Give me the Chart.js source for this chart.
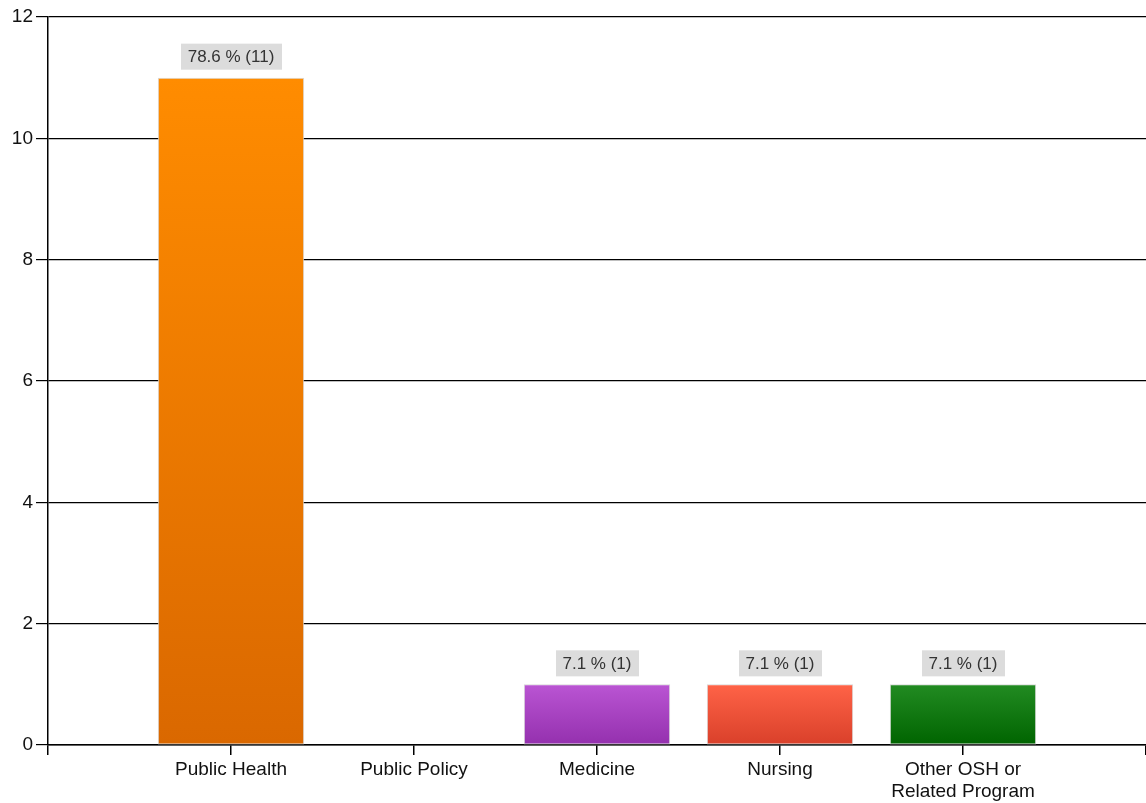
<!DOCTYPE html>
<html>
<head>
<meta charset="utf-8">
<script src="https://cdn.jsdelivr.net/npm/chart.js@4/dist/chart.umd.min.js"></script>
<style>
  html, body { margin: 0; padding: 0; background: #fff; }
  #wrap { width: 1146px; height: 803px; position: relative; }
</style>
</head>
<body>
<div id="wrap"><canvas id="chart"></canvas></div>
<script>
const CATEGORIES = ['Public Health', 'Public Policy', 'Medicine', 'Nursing', ['Other OSH or', 'Related Program']];
const COUNTS     = [11, 0, 1, 1, 1];
const PERCENTS   = ['78.6', '0', '7.1', '7.1', '7.1'];
const TOP_COLORS    = ['#FF8C00', '#FFFFFF', '#BA55D3', '#FF6347', '#228B22'];
const BOTTOM_COLORS = ['#DA6800', '#FFFFFF', '#9430AE', '#D9402A', '#006400'];
const Y_TICKS = [0, 2, 4, 6, 8, 10, 12];

const FONT = '"Liberation Sans", Arial, sans-serif';

// empty slots on both ends so the bars sit at 1..5 of a 0..6 axis
const labels = [''].concat(CATEGORIES, ['']);
const values = [null].concat(COUNTS, [null]);

function barFill(ctx) {
  const chart = ctx.chart;
  const i = ctx.dataIndex - 1;
  if (i < 0 || i >= COUNTS.length) return 'transparent';
  const y = chart.scales.y;
  if (!chart.chartArea || !y) return TOP_COLORS[i];
  const top = y.getPixelForValue(COUNTS[i]);
  const bottom = y.getPixelForValue(0);
  if (!isFinite(top) || top === bottom) return TOP_COLORS[i];
  const g = chart.ctx.createLinearGradient(0, top, 0, bottom);
  g.addColorStop(0, TOP_COLORS[i]);
  g.addColorStop(1, BOTTOM_COLORS[i]);
  return g;
}

// ── value boxes above the bars ─────────────────────────────────────────────
const valueBoxes = {
  id: 'valueBoxes',
  afterDatasetsDraw(chart) {
    const { ctx } = chart;
    const meta = chart.getDatasetMeta(0);
    ctx.save();
    ctx.font = '17px ' + FONT;
    ctx.textAlign = 'center';
    ctx.textBaseline = 'middle';
    COUNTS.forEach((v, i) => {
      if (!v) return;
      const bar = meta.data[i + 1];
      const text = PERCENTS[i] + ' % (' + v + ')';
      const w = ctx.measureText(text).width + 14;
      const h = 26;
      const bottom = bar.y - 8;
      ctx.fillStyle = '#DCDCDC';
      ctx.fillRect(Math.round(bar.x - w / 2), bottom - h, Math.round(w), h);
      ctx.fillStyle = '#333';
      ctx.fillText(text, bar.x, bottom - h / 2 + 1);
    });
    ctx.restore();
  }
};

new Chart(document.getElementById('chart'), {
  type: 'bar',
  plugins: [valueBoxes],
  data: {
    labels,
    datasets: [{
      data: values,
      backgroundColor: barFill,
      borderColor: '#D8D8D8',
      borderWidth: 1,
      borderSkipped: false,
      barPercentage: 0.8,
      categoryPercentage: 1,
    }]
  },
  options: {
    responsive: true,
    maintainAspectRatio: false,
    animation: false,
    layout: { padding: { top: 17, right: 0, left: 0, bottom: 0 } },
    plugins: { legend: { display: false }, tooltip: { enabled: false } },
    scales: {
      x: {
        offset: false,
        afterFit: s => { s.height = 58; s.paddingRight = 0; s.paddingLeft = 0; },
        grid: { offset: false, drawOnChartArea: false, drawTicks: true, tickLength: 10, color: '#000', lineWidth: 1.5 },
        border: { display: true, color: '#000', width: 1.5 },
        ticks: { color: '#111', font: { family: FONT, size: 19 }, padding: 3, maxRotation: 0, autoSkip: false },
      },
      y: {
        min: 0, max: 12,
        afterFit: s => { s.width = 48; },
        afterBuildTicks: s => { s.ticks = Y_TICKS.map(v => ({ value: v })); },
        grid: { color: '#000', lineWidth: 1.2, drawTicks: true, tickLength: 12 },
        border: { display: true, color: '#000', width: 1.5 },
        ticks: { color: '#111', font: { family: FONT, size: 19 }, padding: 3 },
      }
    }
  }
});
</script>
</body>
</html>
